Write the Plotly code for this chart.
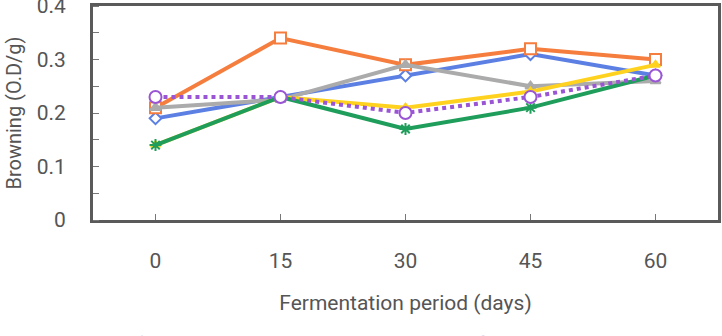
import plotly.graph_objects as go

days = ["0", "15", "30", "45", "60"]
series_names = ["Control", "F-A", "F-B", "F-C", "F-D", "F-E"]
control = [0.19, 0.23, 0.27, 0.31, 0.27]
f_a = [0.21, 0.34, 0.29, 0.32, 0.30]
f_b = [0.21, 0.225, 0.29, 0.25, 0.26]
f_c = [0.14, 0.23, 0.21, 0.24, 0.29]
f_d = [0.23, 0.23, 0.20, 0.23, 0.27]
f_e = [0.14, 0.23, 0.17, 0.21, 0.27]
y_ticks = [0, 0.1, 0.2, 0.3, 0.4]
y_tick_text = ["0", "0.1", "0.2", "0.3", "0.4"]

FONT = "Roboto, Liberation Sans, sans-serif"
TXT = "#555555"

def f(size):
    return dict(family=FONT, size=size, color=TXT)

styles = [
    dict(color="#5B7FE3", dash="solid", symbol="diamond", fill="white", size=9),
    dict(color="#F57E3E", dash="solid", symbol="square", fill="white", size=11),
    dict(color="#ABABAB", dash="solid", symbol="triangle-up", fill="#ABABAB", size=9),
    dict(color="#FFD21F", dash="solid", symbol="triangle-up", fill="#FFD21F", size=8),
    dict(color="#9A55D4", dash="dot", symbol="circle", fill="white", size=12),
    dict(color="#1F9D5B", dash="solid", symbol="asterisk", fill="#1F9D5B", size=10),
]
values = [control, f_a, f_b, f_c, f_d, f_e]
draw_order = [0, 1, 2, 3, 5, 4]

fig = go.Figure()
for i in draw_order:
    s = styles[i]
    fig.add_trace(go.Scatter(
        x=days, y=values[i], name=series_names[i], mode="lines+markers",
        line=dict(color=s["color"], width=4, dash=s["dash"]),
        marker=dict(symbol=s["symbol"], size=s["size"], color=s["fill"],
                    line=dict(color=s["color"], width=2)),
        legendrank=i,
    ))

fig.update_layout(
    width=722, height=336,
    margin=dict(l=93, r=4, t=6, b=116, autoexpand=False),
    paper_bgcolor="white", plot_bgcolor="white",
    font=f(21),
    showlegend=True,
    legend=dict(orientation="h", x=0.44, xanchor="center", y=-0.575, yanchor="middle",
                font=f(21), traceorder="normal",
                itemwidth=30, bgcolor="rgba(0,0,0,0)"),
    xaxis=dict(
        type="category", range=[-0.5, 4.5],
        showline=True, linecolor="#5a5a5a", linewidth=3, mirror=True,
        showgrid=False, zeroline=False,
        ticks="inside", ticklen=6, tickcolor="#777", tickwidth=1,
        ticklabelstandoff=20, tickfont=f(21),
        title=dict(text="Fermentation period (days)", standoff=24, font=f(21)),
    ),
    yaxis=dict(
        range=[0, 0.4], tickvals=y_ticks, ticktext=y_tick_text,
        showline=True, linecolor="#5a5a5a", linewidth=3, mirror=True,
        showgrid=False, zeroline=False,
        ticks="", ticklabelstandoff=20, ticklabeloverflow="allow", tickfont=f(21),
        minor=dict(dtick=0.05, ticks="inside", ticklen=6, tickcolor="#777", tickwidth=1),
        title=dict(text="Browning (O.D/g)", standoff=10, font=f(20)),
    ),
)

fig.write_html("out.html")
